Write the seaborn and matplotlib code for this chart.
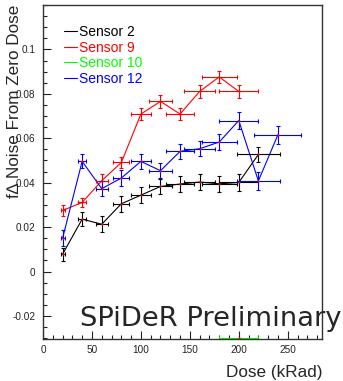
import numpy as np
import pandas as pd
import matplotlib
matplotlib.use("Agg")
import matplotlib.pyplot as plt
import seaborn as sns
from matplotlib.ticker import MultipleLocator, FixedLocator
from matplotlib.lines import Line2D

# ---------------- data ----------------
s2_x = [20, 40, 60, 80, 100, 120, 140, 160, 180, 200, 220]
s2_xerr = [2, 4, 6, 8, 10, 12, 14, 16, 18, 20, 22]
s2_y = [0.0078, 0.0236, 0.0213, 0.0305, 0.0344, 0.0383, 0.0394, 0.0403, 0.0395, 0.0401, 0.0527]
s2_yerr = [0.0030, 0.0032, 0.0037, 0.0035, 0.0035, 0.0035, 0.0035, 0.0035, 0.0035, 0.0038, 0.0035]

s9_x = [20, 40, 60, 80, 100, 120, 140, 160, 180, 200]
s9_xerr = [2, 4, 6, 8, 10, 12, 14, 16, 18, 20]
s9_y = [0.0275, 0.0311, 0.0409, 0.0491, 0.0709, 0.0766, 0.0709, 0.0811, 0.0876, 0.0811]
s9_yerr = [0.0026, 0.0020, 0.0030, 0.0025, 0.0028, 0.0028, 0.0028, 0.0028, 0.0028, 0.0028]

s10_x = [200]
s10_xerr = [20]
s10_y = [-0.0297]
s10_yerr = [0.0]

s12_x = [20, 40, 60, 80, 100, 120, 140, 160, 180, 200, 220, 240]
s12_xerr = [2, 4, 6, 8, 10, 12, 14, 16, 18, 20, 22, 24]
s12_y = [0.0150, 0.0496, 0.0373, 0.0421, 0.0496, 0.0454, 0.0541, 0.0553, 0.0583, 0.0680, 0.0408, 0.0616]
s12_yerr = [0.0035, 0.0032, 0.0035, 0.0035, 0.0035, 0.0035, 0.0035, 0.0035, 0.0035, 0.0038, 0.0040, 0.0041]

labels = ["Sensor 2", "Sensor 9", "Sensor 10", "Sensor 12"]
colors = ["#000000", "#ff0000", "#00ff00", "#0000ff"]

x_ticks = [0, 50, 100, 150, 200, 250]
y_ticks = [-0.02, 0, 0.02, 0.04, 0.06, 0.08, 0.1]
y_tick_labels = ["-0.02", "0", "0.02", "0.04", "0.06", "0.08", "0.1"]

series = [
    (s2_x, s2_xerr, s2_y, s2_yerr),
    (s9_x, s9_xerr, s9_y, s9_yerr),
    (s10_x, s10_xerr, s10_y, s10_yerr),
    (s12_x, s12_xerr, s12_y, s12_yerr),
]

frames = []
for lab, (x, xe, y, ye) in zip(labels, series):
    frames.append(pd.DataFrame({"dose": x, "val": y, "sensor": lab}))
df = pd.concat(frames, ignore_index=True)

# ---------------- figure ----------------
sns.set_style("white")
plt.rcParams["font.family"] = ["Liberation Sans", "DejaVu Sans"]

fig = plt.figure(figsize=(3.43, 3.81), dpi=100)
ax = fig.add_axes([43 / 343, 1 - 339.3 / 381, (322 - 43) / 343, (339.3 - 5) / 381])

sns.lineplot(data=df, x="dose", y="val", hue="sensor", palette=dict(zip(labels, colors)),
             estimator=None, sort=False, units="sensor", legend=False, lw=0.8, ax=ax)

for lab, col, (x, xe, y, ye) in zip(labels, colors, series):
    ax.errorbar(x, y, xerr=xe, yerr=ye, fmt="none", ecolor=col, elinewidth=0.8,
                capsize=1.6, capthick=0.8, clip_on=True)
    ax.scatter(x, y, s=2.5, color="#ff0000", zorder=5, linewidths=0)

ax.set_xlim(0, 285)
ax.set_ylim(-0.0305, 0.120)

ax.xaxis.set_major_locator(FixedLocator(x_ticks))
ax.set_xticklabels([str(t) for t in x_ticks])
ax.xaxis.set_minor_locator(MultipleLocator(10))
ax.yaxis.set_major_locator(FixedLocator(y_ticks))
ax.set_yticklabels(y_tick_labels)
ax.yaxis.set_minor_locator(MultipleLocator(0.005))

ax.tick_params(axis="both", which="both", direction="in", top=False, right=False,
               bottom=True, left=True, colors="#222222", labelsize=7.2, width=0.8)
ax.tick_params(axis="both", which="major", length=6)
ax.tick_params(axis="both", which="minor", length=3)
ax.tick_params(axis="x", which="major", pad=4)
ax.tick_params(axis="y", which="major", pad=5.5)

for sp in ax.spines.values():
    sp.set_color("#333333")
    sp.set_linewidth(1.0)

ax.set_xlabel("")
ax.set_ylabel("")
fig.text(322 / 343, 1 - 373 / 381, "Dose (kRad)", ha="right", va="center", fontsize=12.3)
fig.text(15 / 343, 1 - 5 / 381, "f\u2206 Noise From Zero Dose", ha="center", va="top",
         rotation=90, fontsize=12.3)

handles = [Line2D([0], [0], color=c, lw=0.8) for c in colors]
leg = ax.legend(handles, labels, loc="upper left", bbox_to_anchor=(64 / 343, 1 - 25 / 381),
                bbox_transform=fig.transFigure, frameon=False, fontsize=10,
                handlelength=0.95, handletextpad=0.15, labelspacing=0.12,
                borderpad=0, borderaxespad=0, labelcolor="linecolor")

fig.text(80 / 343, 1 - 326 / 381, "SPiDeR Preliminary", fontsize=19.7,
         family="DejaVu Sans", ha="left", va="baseline")

fig.savefig("out.png", dpi=100)
